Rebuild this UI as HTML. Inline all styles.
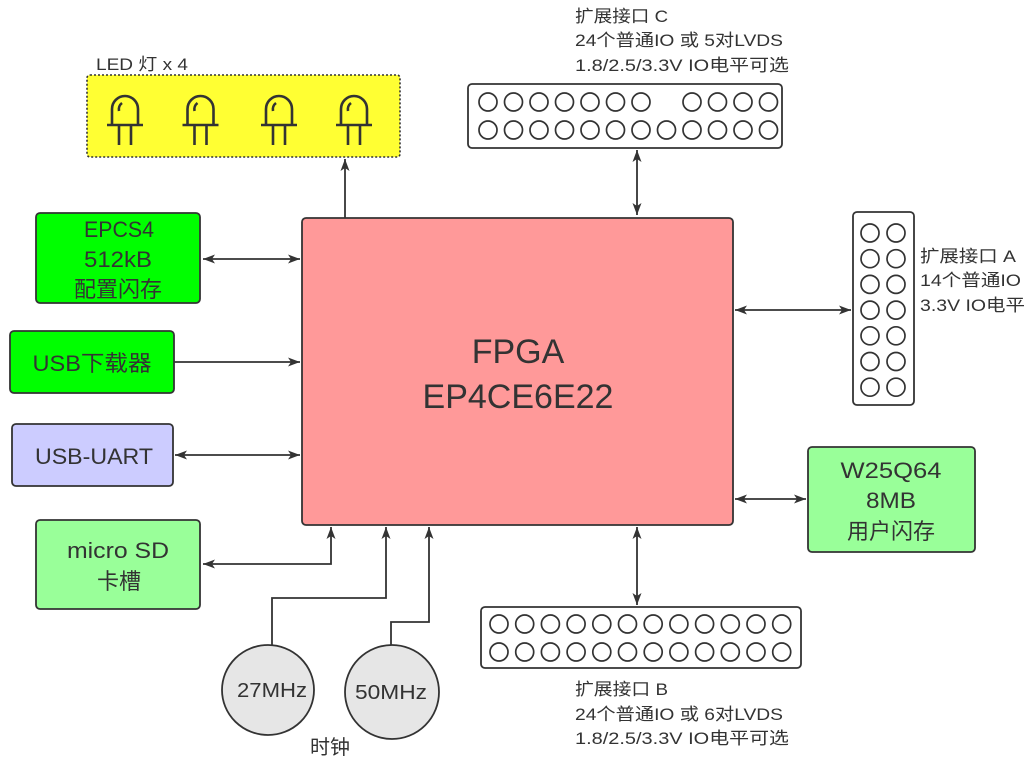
<!DOCTYPE html>
<html><head><meta charset="utf-8"><style>
html,body{margin:0;padding:0;background:#fff;}
svg{display:block;}
text{font-family:"Liberation Sans","Noto Sans CJK SC",sans-serif;fill:#333;}
</style></head><body>
<svg width="1035" height="765" viewBox="0 0 1035 765" xmlns="http://www.w3.org/2000/svg">
<defs>
<marker id="ah" viewBox="0 0 12 10" refX="12" refY="5" markerWidth="12" markerHeight="10" markerUnits="userSpaceOnUse" orient="auto-start-reverse">
<path d="M0,0.5 L12,5 L0,9.5 L3,5 Z" fill="#333"/></marker>
</defs>
<g stroke="#333" stroke-width="1.6" fill="none">
<rect x="87" y="75" width="313" height="82" rx="3" fill="#ffff33" stroke-dasharray="2,2"/>
</g>
<text x="96" y="70" font-size="17" textLength="92" lengthAdjust="spacingAndGlyphs">LED 灯 x 4</text>
<g stroke="#333" stroke-width="2.6" fill="none">
<g transform="translate(125,0)"><path d="M-13,125 V109 A13,13 0 0 1 13,109 V125"/><path d="M-18,125 H18 M-6,125 V145 M6,125 V145"/><path d="M-6,111 A8,8 0 0 1 -3,103"/></g>
<g transform="translate(200.5,0)"><path d="M-13,125 V109 A13,13 0 0 1 13,109 V125"/><path d="M-18,125 H18 M-6,125 V145 M6,125 V145"/><path d="M-6,111 A8,8 0 0 1 -3,103"/></g>
<g transform="translate(279,0)"><path d="M-13,125 V109 A13,13 0 0 1 13,109 V125"/><path d="M-18,125 H18 M-6,125 V145 M6,125 V145"/><path d="M-6,111 A8,8 0 0 1 -3,103"/></g>
<g transform="translate(354,0)"><path d="M-13,125 V109 A13,13 0 0 1 13,109 V125"/><path d="M-18,125 H18 M-6,125 V145 M6,125 V145"/><path d="M-6,111 A8,8 0 0 1 -3,103"/></g>
</g>
<g stroke="#333" stroke-width="1.8">
<rect x="302" y="218" width="431" height="307" rx="4" fill="#ff9999"/>
<rect x="36" y="213" width="164" height="90" rx="4" fill="#00ff00"/>
<rect x="10" y="331" width="164" height="62" rx="4" fill="#00ff00"/>
<rect x="12" y="424" width="161" height="62" rx="4" fill="#ccccff"/>
<rect x="36" y="520" width="164" height="89" rx="4" fill="#99ff99"/>
<rect x="808" y="447" width="167" height="105" rx="4" fill="#99ff99"/>
<rect x="468" y="84" width="314" height="64" rx="4" fill="#fff"/>
<rect x="481" y="607" width="320" height="61" rx="4" fill="#fff"/>
<rect x="853" y="212" width="61" height="193" rx="4" fill="#fff"/>
<ellipse cx="268" cy="690" rx="46" ry="45" fill="#e6e6e6"/>
<ellipse cx="392" cy="692" rx="47" ry="47" fill="#e6e6e6"/>
</g>
<g stroke="#333" stroke-width="1.8" fill="none">
<path d="M345,218 V159" marker-end="url(#ah)"/>
<path d="M637,150 V215" marker-start="url(#ah)" marker-end="url(#ah)"/>
<path d="M203,259 H300" marker-start="url(#ah)" marker-end="url(#ah)"/>
<path d="M174,362 H300" marker-end="url(#ah)"/>
<path d="M175,455 H300" marker-start="url(#ah)" marker-end="url(#ah)"/>
<path d="M331,527 V564 H203" marker-start="url(#ah)" marker-end="url(#ah)"/>
<path d="M272,645 V598 H386 V527" marker-end="url(#ah)"/>
<path d="M391,645 V622 H429 V527" marker-end="url(#ah)"/>
<path d="M735,310 H851" marker-start="url(#ah)" marker-end="url(#ah)"/>
<path d="M735,499 H806" marker-start="url(#ah)" marker-end="url(#ah)"/>
<path d="M637,527 V605" marker-start="url(#ah)" marker-end="url(#ah)"/>
</g>
<g stroke="#333" stroke-width="1.7" fill="none">
<circle cx="488" cy="102" r="9"/><circle cx="513.5" cy="102" r="9"/><circle cx="539" cy="102" r="9"/><circle cx="564.5" cy="102" r="9"/><circle cx="590" cy="102" r="9"/><circle cx="615.5" cy="102" r="9"/><circle cx="641" cy="102" r="9"/><circle cx="692" cy="102" r="9"/><circle cx="717.5" cy="102" r="9"/><circle cx="743" cy="102" r="9"/><circle cx="768.5" cy="102" r="9"/>
<circle cx="488" cy="130" r="9"/><circle cx="513.5" cy="130" r="9"/><circle cx="539" cy="130" r="9"/><circle cx="564.5" cy="130" r="9"/><circle cx="590" cy="130" r="9"/><circle cx="615.5" cy="130" r="9"/><circle cx="641" cy="130" r="9"/><circle cx="666.5" cy="130" r="9"/><circle cx="692" cy="130" r="9"/><circle cx="717.5" cy="130" r="9"/><circle cx="743" cy="130" r="9"/><circle cx="768.5" cy="130" r="9"/>
<circle cx="499" cy="624" r="9"/><circle cx="524.7" cy="624" r="9"/><circle cx="550.4" cy="624" r="9"/><circle cx="576.1" cy="624" r="9"/><circle cx="601.8" cy="624" r="9"/><circle cx="627.5" cy="624" r="9"/><circle cx="653.2" cy="624" r="9"/><circle cx="678.9" cy="624" r="9"/><circle cx="704.6" cy="624" r="9"/><circle cx="730.3" cy="624" r="9"/><circle cx="756" cy="624" r="9"/><circle cx="781.7" cy="624" r="9"/>
<circle cx="499" cy="652" r="9"/><circle cx="524.7" cy="652" r="9"/><circle cx="550.4" cy="652" r="9"/><circle cx="576.1" cy="652" r="9"/><circle cx="601.8" cy="652" r="9"/><circle cx="627.5" cy="652" r="9"/><circle cx="653.2" cy="652" r="9"/><circle cx="678.9" cy="652" r="9"/><circle cx="704.6" cy="652" r="9"/><circle cx="730.3" cy="652" r="9"/><circle cx="756" cy="652" r="9"/><circle cx="781.7" cy="652" r="9"/>
<circle cx="870" cy="233" r="9"/><circle cx="896" cy="233" r="9"/>
<circle cx="870" cy="258.7" r="9"/><circle cx="896" cy="258.7" r="9"/>
<circle cx="870" cy="284.4" r="9"/><circle cx="896" cy="284.4" r="9"/>
<circle cx="870" cy="310.1" r="9"/><circle cx="896" cy="310.1" r="9"/>
<circle cx="870" cy="335.8" r="9"/><circle cx="896" cy="335.8" r="9"/>
<circle cx="870" cy="361.5" r="9"/><circle cx="896" cy="361.5" r="9"/>
<circle cx="870" cy="387.2" r="9"/><circle cx="896" cy="387.2" r="9"/>
</g>
<text x="518" y="363" font-size="34" text-anchor="middle">FPGA</text>
<text x="518" y="408" font-size="34" text-anchor="middle">EP4CE6E22</text>
<g font-size="22" text-anchor="middle" lengthAdjust="spacingAndGlyphs">
<text x="119" y="237" textLength="70" lengthAdjust="spacingAndGlyphs">EPCS4</text>
<text x="118" y="267" textLength="68" lengthAdjust="spacingAndGlyphs">512kB</text>
<text x="118" y="297">配置闪存</text>
<text x="92" y="371" textLength="119" lengthAdjust="spacingAndGlyphs">USB下载器</text>
<text x="94" y="464" textLength="118" lengthAdjust="spacingAndGlyphs">USB-UART</text>
<text x="118" y="558" textLength="102" lengthAdjust="spacingAndGlyphs">micro SD</text>
<text x="119" y="589">卡槽</text>
<text x="891" y="478" textLength="101" lengthAdjust="spacingAndGlyphs">W25Q64</text>
<text x="891" y="508" textLength="50" lengthAdjust="spacingAndGlyphs">8MB</text>
<text x="891" y="539">用户闪存</text>
</g>
<g font-size="20" text-anchor="middle">
<text x="272" y="697" textLength="70" lengthAdjust="spacingAndGlyphs">27MHz</text>
<text x="391" y="699" textLength="72" lengthAdjust="spacingAndGlyphs">50MHz</text>
<text x="330" y="754">时钟</text>
</g>
<g font-size="17">
<text x="575" y="22" textLength="93" lengthAdjust="spacingAndGlyphs">扩展接口 C</text>
<text x="575" y="46" textLength="208" lengthAdjust="spacingAndGlyphs">24个普通IO 或 5对LVDS</text>
<text x="575" y="71" textLength="214" lengthAdjust="spacingAndGlyphs">1.8/2.5/3.3V IO电平可选</text>
<text x="575" y="695" textLength="93" lengthAdjust="spacingAndGlyphs">扩展接口 B</text>
<text x="575" y="720" textLength="208" lengthAdjust="spacingAndGlyphs">24个普通IO 或 6对LVDS</text>
<text x="575" y="744" textLength="214" lengthAdjust="spacingAndGlyphs">1.8/2.5/3.3V IO电平可选</text>
<text x="920" y="262" textLength="96" lengthAdjust="spacingAndGlyphs">扩展接口 A</text>
<text x="920" y="286" textLength="101" lengthAdjust="spacingAndGlyphs">14个普通IO</text>
<text x="920" y="311" textLength="105" lengthAdjust="spacingAndGlyphs">3.3V IO电平</text>
</g>
</svg>
</body></html>
